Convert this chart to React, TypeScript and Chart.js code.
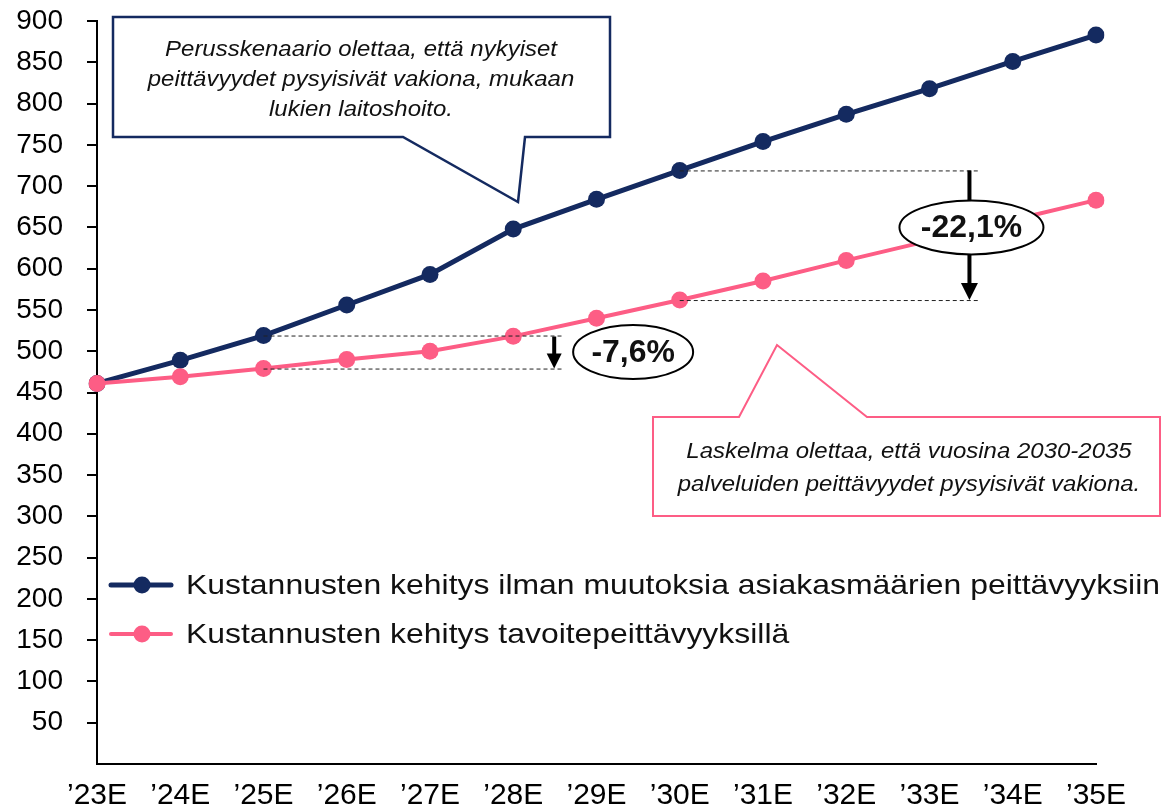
import React, { useEffect, useRef } from "react";
import { Chart, registerables } from "chart.js";

Chart.register(...registerables);

const categories = ["’23E", "’24E", "’25E", "’26E", "’27E", "’28E", "’29E", "’30E", "’31E", "’32E", "’33E", "’34E", "’35E"];
const baseSeries = [461, 489, 519, 556, 593, 648, 684, 719, 754, 787, 818, 851, 883];
const targetSeries = [461, 469, 479, 490, 500, 518, 540, 562, 585, 610, 634, 659, 683];
const seriesNames = [
  "Kustannusten kehitys ilman muutoksia asiakasmäärien peittävyyksiin",
  "Kustannusten kehitys tavoitepeittävyyksillä",
];
const calloutTop = ["Perusskenaario olettaa, että nykyiset", "peittävyydet pysyisivät vakiona, mukaan", "lukien laitoshoito."];
const calloutBottom = ["Laskelma olettaa, että vuosina 2030-2035", "palveluiden peittävyydet pysyisivät vakiona."];
const diffLabels = ["-7,6%", "-22,1%"];
const diffIndexes = [2, 7];

const NAVY = "#142a60";
const PINK = "#fd5d85";
const FONT = "'Liberation Sans', Arial, sans-serif";

function stretchText(ctx: CanvasRenderingContext2D, text: string, x: number, y: number, font: string, sx: number, align: CanvasTextAlign = "center") {
  ctx.save();
  ctx.font = font;
  ctx.textAlign = align;
  ctx.textBaseline = "middle";
  ctx.fillStyle = "#111";
  ctx.translate(x, y);
  ctx.scale(sx, 1);
  ctx.fillText(text, 0, 0);
  ctx.restore();
}

function arrowDown(ctx: CanvasRenderingContext2D, x: number, y1: number, y2: number, lw: number, head: number) {
  ctx.save();
  ctx.strokeStyle = "#000";
  ctx.fillStyle = "#000";
  ctx.lineWidth = lw;
  ctx.beginPath();
  ctx.moveTo(x, y1);
  ctx.lineTo(x, y2 - head + 1);
  ctx.stroke();
  ctx.beginPath();
  ctx.moveTo(x - head / 2, y2 - head);
  ctx.lineTo(x + head / 2, y2 - head);
  ctx.lineTo(x, y2);
  ctx.closePath();
  ctx.fill();
  ctx.restore();
}

function dashed(ctx: CanvasRenderingContext2D, x1: number, x2: number, y: number) {
  ctx.save();
  ctx.strokeStyle = "#222";
  ctx.lineWidth = 1;
  ctx.setLineDash([4, 3]);
  ctx.beginPath();
  ctx.moveTo(x1, y + 0.5);
  ctx.lineTo(x2, y + 0.5);
  ctx.stroke();
  ctx.restore();
}

function ellipseLabel(ctx: CanvasRenderingContext2D, cx: number, cy: number, rx: number, ry: number, text: string) {
  ctx.save();
  ctx.beginPath();
  ctx.ellipse(cx, cy, rx, ry, 0, 0, Math.PI * 2);
  ctx.fillStyle = "#fff";
  ctx.fill();
  ctx.lineWidth = 2;
  ctx.strokeStyle = "#000";
  ctx.stroke();
  ctx.restore();
  stretchText(ctx, text, cx, cy + 1, `bold 31px ${FONT}`, 1.03);
}

const annotationPlugin = {
  id: "annotations",
  afterDatasetsDraw(chart: any) {
    const ctx: CanvasRenderingContext2D = chart.ctx;
    const xs = chart.scales.x;
    const ys = chart.scales.y;

    // difference markers
    {
      const i = diffIndexes[0];
      const x0 = xs.getPixelForValue(i);
      const yTop = ys.getPixelForValue(baseSeries[i]);
      const yBot = ys.getPixelForValue(targetSeries[i]);
      const xEnd = xs.getPixelForValue(i + 3.6);
      dashed(ctx, x0, xEnd, yTop);
      dashed(ctx, x0, xEnd, yBot);
      arrowDown(ctx, xEnd - 9, yTop + 1, yBot, 4, 15);
      ellipseLabel(ctx, xs.getPixelForValue(i + 4.44), (yTop + yBot) / 2, 60, 27, diffLabels[0]);
    }
    {
      const i = diffIndexes[1];
      const x0 = xs.getPixelForValue(i);
      const yTop = ys.getPixelForValue(baseSeries[i]);
      const yBot = ys.getPixelForValue(targetSeries[i]);
      const xEnd = xs.getPixelForValue(i + 3.6);
      dashed(ctx, x0, xEnd, yTop);
      dashed(ctx, x0, xEnd, yBot);
      const ax = xEnd - 10;
      arrowDown(ctx, ax, yTop, yBot, 4, 17);
      ellipseLabel(ctx, ax + 2, yTop + 57, 72, 27, diffLabels[1]);
    }

    // top callout (navy)
    ctx.save();
    ctx.beginPath();
    ctx.moveTo(113, 17);
    ctx.lineTo(610, 17);
    ctx.lineTo(610, 137);
    ctx.lineTo(525, 137);
    ctx.lineTo(518, 202);
    ctx.lineTo(403, 137);
    ctx.lineTo(113, 137);
    ctx.closePath();
    ctx.fillStyle = "#fff";
    ctx.fill();
    ctx.lineWidth = 2.5;
    ctx.strokeStyle = NAVY;
    ctx.stroke();
    ctx.restore();
    calloutTop.forEach((t, k) => stretchText(ctx, t, 361, 50 + k * 30, `italic 22px ${FONT}`, 1.09));

    // bottom callout (pink)
    ctx.save();
    ctx.beginPath();
    ctx.moveTo(653, 417);
    ctx.lineTo(739, 417);
    ctx.lineTo(777, 345);
    ctx.lineTo(867, 417);
    ctx.lineTo(1160, 417);
    ctx.lineTo(1160, 516);
    ctx.lineTo(653, 516);
    ctx.closePath();
    ctx.fillStyle = "#fff";
    ctx.fill();
    ctx.lineWidth = 2;
    ctx.strokeStyle = PINK;
    ctx.stroke();
    ctx.restore();
    calloutBottom.forEach((t, k) => stretchText(ctx, t, 909, 452 + k * 33, `italic 22px ${FONT}`, 1.09));

    // legend
    const rows = [585, 634];
    chart.data.datasets.forEach((ds: any, k: number) => {
      const y = rows[k];
      ctx.save();
      ctx.strokeStyle = ds.borderColor;
      ctx.lineWidth = ds.borderWidth;
      ctx.lineCap = "round";
      ctx.beginPath();
      ctx.moveTo(111, y);
      ctx.lineTo(171, y);
      ctx.stroke();
      ctx.fillStyle = ds.pointBackgroundColor;
      ctx.beginPath();
      ctx.arc(142, y, ds.pointRadius, 0, Math.PI * 2);
      ctx.fill();
      ctx.restore();
      stretchText(ctx, ds.label, 186, y + 1, `28px ${FONT}`, 1.14, "left");
    });
  },
};

export default function App() {
  const ref = useRef<HTMLCanvasElement | null>(null);

  useEffect(() => {
    if (!ref.current) return;
    const chart = new Chart(ref.current, {
      type: "line",
      data: {
        labels: categories,
        datasets: [
          {
            label: seriesNames[0],
            data: baseSeries,
            borderColor: NAVY,
            backgroundColor: NAVY,
            pointBackgroundColor: NAVY,
            pointBorderColor: NAVY,
            borderWidth: 5,
            pointRadius: 8.5,
            pointBorderWidth: 0,
            tension: 0,
            order: 1,
          },
          {
            label: seriesNames[1],
            data: targetSeries,
            borderColor: PINK,
            backgroundColor: PINK,
            pointBackgroundColor: PINK,
            pointBorderColor: PINK,
            borderWidth: 4,
            pointRadius: 8.5,
            pointBorderWidth: 0,
            tension: 0,
            order: 0,
          },
        ],
      },
      options: {
        animation: false,
        responsive: false,
        maintainAspectRatio: false,
        layout: { padding: { left: 0, right: 66, top: 21, bottom: 0 } },
        plugins: {
          legend: { display: false },
          tooltip: { enabled: false },
        },
        scales: {
          x: {
            type: "category",
            offset: false,
            grid: { display: false, drawTicks: false },
            border: { display: true, color: "#000", width: 2 },
            ticks: {
              color: "#000",
              font: { family: FONT, size: 30 },
              padding: 14,
              maxRotation: 0,
              autoSkip: false,
            },
            afterFit: (s: any) => {
              s.height = 44;
              s.paddingLeft = 0;
              s.paddingRight = 0;
            },
          },
          y: {
            min: 0,
            max: 900,
            grid: { display: true, drawOnChartArea: false, drawTicks: true, tickLength: 10, color: "#000", lineWidth: 2 },
            border: { display: true, color: "#000", width: 2 },
            ticks: {
              stepSize: 50,
              color: "#000",
              font: { family: FONT, size: 28 },
              padding: 24,
            },
            afterBuildTicks: (s: any) => {
              s.ticks = s.ticks.filter((t: any) => t.value !== 0);
            },
            afterFit: (s: any) => {
              s.width = 97;
              s.paddingTop = 0;
              s.paddingBottom = 0;
            },
          },
        },
      },
      plugins: [annotationPlugin],
    });
    return () => chart.destroy();
  }, []);

  return (
    <div style={{ position: "absolute", left: 0, top: 0, width: 1162, height: 808, background: "#fff" }}>
      <canvas ref={ref} width={1162} height={808} style={{ width: 1162, height: 808, display: "block" }} />
    </div>
  );
}
